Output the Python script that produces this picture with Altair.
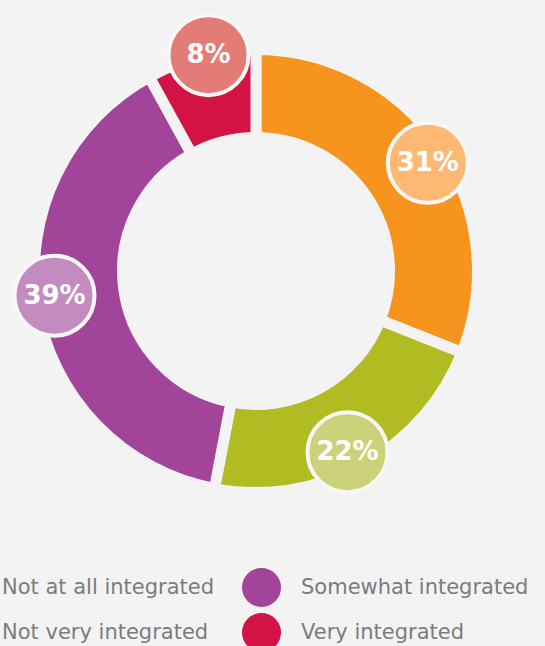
import altair as alt
import pandas as pd

# Data
categories = ["Not at all integrated", "Not very integrated", "Somewhat integrated", "Very integrated"]
values = [31, 22, 39, 8]
pie_order = [1, 2, 3, 4]

main_colors = ["#F7941D", "#B0BC22", "#A2449A", "#D31245"]
light_colors = ["#FDB873", "#CCD27A", "#C48BC0", "#E37B76"]

df = pd.DataFrame({"category": categories, "value": values, "order": pie_order})

BG = "#f3f3f3"
CX, CY = 256, 271

base = alt.Chart(df)

arcs = base.mark_arc(
    outerRadius=221.5, innerRadius=133.5, stroke=BG, strokeWidth=11
).encode(
    theta=alt.Theta("value:Q", stack=True),
    order=alt.Order("order:Q"),
    color=alt.Color(
        "category:N",
        scale=alt.Scale(domain=categories, range=main_colors),
        legend=alt.Legend(
            orient="none", legendX=-57, legendY=568, columns=2, title=None,
            symbolType="circle", symbolSize=1521, symbolStrokeWidth=0, symbolOpacity=1,
            labelFontSize=21, labelFont="DejaVu Sans", labelColor="#7b7b80",
            labelOffset=20, rowPadding=6, columnPadding=27, padding=0, labelLimit=400,
        ),
    ),
    x=alt.value(CX), y=alt.value(CY),
)

pos = base.transform_joinaggregate(total="sum(value)").transform_window(
    cum="sum(value)", sort=[alt.SortField("order")]
).transform_calculate(
    mid="(datum.cum - datum.value / 2) / datum.total * 2 * PI + 0.035",
    r="datum.value < 10 ? 221 : 203",
).transform_calculate(
    px=f"{CX} + datum.r * sin(datum.mid)",
    py=f"{CY} - datum.r * cos(datum.mid)",
    label="datum.value + '%'",
)

circles = pos.mark_point(
    shape="circle", size=6400, filled=True, opacity=1, stroke="#f7f7f7", strokeWidth=4
).encode(
    x=alt.X("px:Q", scale=None),
    y=alt.Y("py:Q", scale=None),
    fill=alt.Fill("category:N", scale=alt.Scale(domain=categories, range=light_colors), legend=None),
)

texts = pos.mark_text(
    font="DejaVu Sans", fontWeight="bold", fontSize=26, color="white", align="center", baseline="middle"
).encode(
    x=alt.X("px:Q", scale=None),
    y=alt.Y("py:Q", scale=None),
    text="label:N",
)

chart = alt.layer(arcs, circles, texts).resolve_scale(color="independent", fill="independent").properties(
    width=545, height=646, padding=0, background=BG,
    autosize=alt.AutoSizeParams(type="none"),
).configure_view(stroke=None)

chart.save("out.html", embed_options={"renderer": "svg", "actions": False})
